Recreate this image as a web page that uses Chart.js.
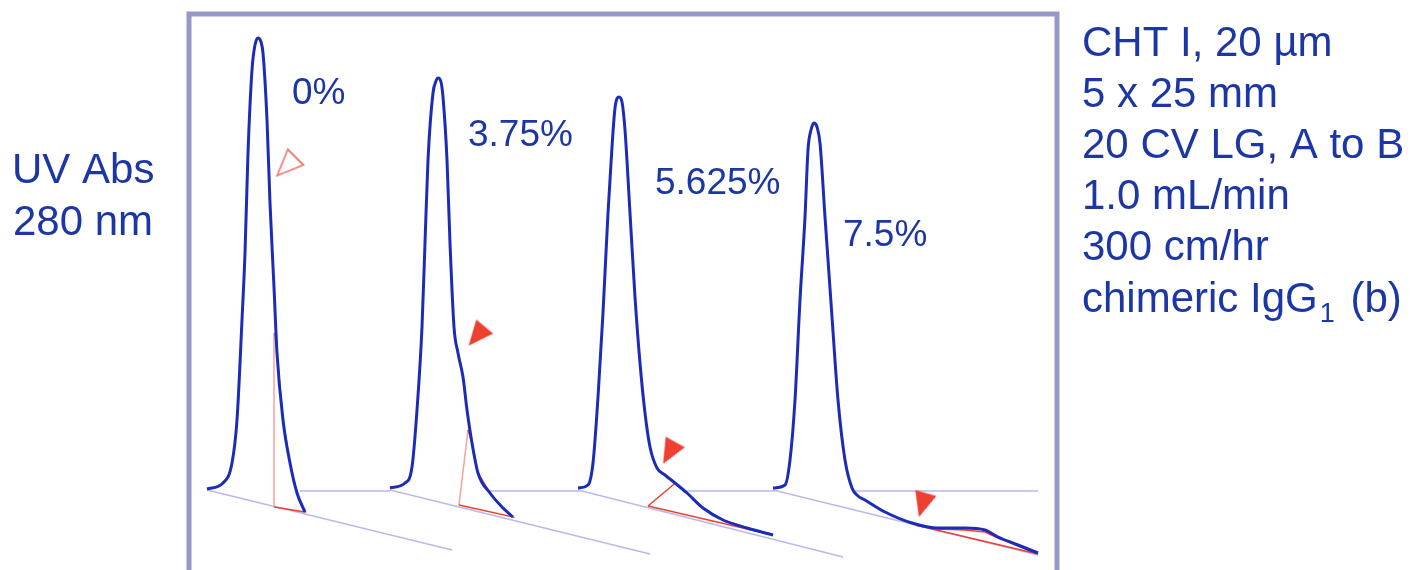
<!DOCTYPE html>
<html>
<head>
<meta charset="utf-8">
<title>CHT I - chimeric IgG1 (b)</title>
<script src="https://cdn.jsdelivr.net/npm/chart.js@4.4.1/dist/chart.umd.min.js"></script>
<style>
  html, body { margin: 0; padding: 0; background: #fff; overflow: hidden; }
  #chromChart { display: block; }
</style>
</head>
<body>
<canvas id="chromChart" width="1414" height="570"></canvas>
<script>
// plot units: x = run position across the stacked view, y = absorbance above the flat baseline
const peak1X = [18, 34, 43, 48, 53, 56, 59, 63, 66, 69, 72, 74, 78, 81, 85, 88, 94, 101, 108, 116];
const peak1Y = [2, 8, 28, 71, 171, 238, 338, 421, 446, 453, 449, 438, 371, 288, 204, 138, 71, 28, -2, -21];

const peak2X = [201, 216, 223, 228, 233, 236, 239, 244, 247, 249, 252, 254, 258, 261, 265, 269, 274, 278, 283, 289, 301, 313, 324];
const peak2Y = [3, 8, 24, 81, 164, 248, 331, 398, 410, 413, 409, 394, 331, 248, 164, 138, 114, 81, 48, 18, -2, -16, -26];

const peak3X = [389, 399, 404, 409, 414, 419, 423, 426, 430, 433, 436, 441, 446, 451, 456, 461, 468, 476, 486, 498, 514, 534, 558, 584];
const peak3Y = [3, 6, 28, 94, 178, 278, 344, 383, 394, 389, 361, 278, 194, 128, 78, 44, 23, 16, 8, -2, -17, -29, -37, -44];

const peak4X = [584, 596, 601, 606, 611, 616, 619, 622, 625, 628, 631, 636, 643, 649, 656, 663, 669, 676, 696, 723, 749, 776, 796, 809, 829, 849];
const peak4Y = [3, 6, 31, 91, 191, 274, 341, 361, 368, 364, 348, 274, 174, 91, 31, 3, -5, -9, -21, -32, -37, -37, -39, -46, -54, -62];

// slanted run axes (one per run) and the flat baseline pieces
const diagStartX = [18, 201, 389, 584];
const diagStartY = [1, 1, 1, 1];
const diagEndX = [263, 461, 654, 849];
const diagEndY = [-59, -63, -66, -64];
const baseStartX = [111, 301, 494, 664];
const baseEndX = [201, 391, 586, 849];

// red aggregate regions
const red1X = [85, 85, 116, 108, 101, 94, 88, 86];
const red1Y = [158, -16, -21, -2, 28, 71, 138, 158];
const red2X = [279, 270, 324, 313, 301, 289, 283, 279];
const red2Y = [61, -14, -26, -16, -2, 18, 48, 61];
const red3X = [459, 484, 486, 498, 514, 534, 558, 584, 459];
const red3Y = [-15, 6, 8, -2, -17, -29, -37, -44, -15];
const red4X = [726, 749, 776, 796, 809, 829, 849, 726];
const red4Y = [-34, -38, -39, -41, -47, -55, -63, -34];

// arrow heads (centre of each head)
const markX = [97.4, 287.7, 480.2, 733.4];
const markY = [324.6, 154.9, 38.1, -14];

// gradient labels
const pctLabels = ['0%', '3.75%', '5.625%', '7.5%'];
const pctX = [103, 279, 466, 654];
const pctY = [387, 345, 297, 245];

const yLabel = ['UV Abs', '280 nm'];
const conditions = ['CHT I, 20 µm', '5 x 25 mm', '20 CV LG, A to B', '1.0 mL/min', '300 cm/hr'];

const textColor = '#1c36a6';
const peakColor = '#1b2db8';
const redColor = '#ee4031';
const paleRed = '#f6a29a';
const gridColor = '#b9b9ec';

function pts(xs, ys) {
    return xs.map((x, i) => ({ x: x, y: ys[i] }));
}

// arrow head image, tip pointing down
function arrowHead(filled, len, wid) {
    const c = document.createElement('canvas');
    c.width = 32;
    c.height = 32;
    const g = c.getContext('2d');
    g.beginPath();
    g.moveTo(16 - wid / 2, 16 - len / 2);
    g.lineTo(16 + wid / 2, 16 - len / 2);
    g.lineTo(16, 16 + len / 2);
    g.closePath();
    if (filled) {
        g.fillStyle = redColor;
        g.fill();
    } else {
        g.strokeStyle = '#f17f76';
        g.lineWidth = 1.8;
        g.stroke();
    }
    return c;
}

const openHead = arrowHead(false, 26, 22);
const solidHead = arrowHead(true, 25, 22);

const datasets = [];

datasets.push({
    data: pts(markX, markY),
    showLine: false,
    pointStyle: [openHead, solidHead, solidHead, solidHead],
    pointRotation: [45, 40, 29, 16],
    pointRadius: 16,
    order: 1
});

[[peak1X, peak1Y], [peak2X, peak2Y], [peak3X, peak3Y], [peak4X, peak4Y]].forEach(p => {
    datasets.push({
        data: pts(p[0], p[1]),
        borderColor: peakColor,
        borderWidth: 3,
        pointRadius: 0,
        cubicInterpolationMode: 'monotone',
        fill: false,
        order: 2
    });
});

// first two regions have a pale cut line
[[red1X, red1Y, paleRed], [red2X, red2Y, paleRed], [red3X, red3Y, redColor], [red4X, red4Y, redColor]].forEach(r => {
    datasets.push({
        data: pts(r[0], r[1]),
        borderColor: redColor,
        borderWidth: 1.5,
        pointRadius: 0,
        tension: 0,
        fill: false,
        segment: {
            borderColor: ctx => ctx.p0DataIndex === 0 ? r[2] : undefined
        },
        order: 3
    });
});

diagStartX.forEach((x, i) => {
    datasets.push({
        data: [{ x: x, y: diagStartY[i] }, { x: diagEndX[i], y: diagEndY[i] }],
        borderColor: gridColor,
        borderWidth: 1.5,
        pointRadius: 0,
        order: 4
    });
});

baseStartX.forEach((x, i) => {
    datasets.push({
        data: [{ x: x, y: 0 }, { x: baseEndX[i], y: 0 }],
        borderColor: gridColor,
        borderWidth: 1.5,
        pointRadius: 0,
        order: 4
    });
});

const framePlugin = {
    id: 'frame',
    afterDatasetsDraw(chart) {
        const { ctx, chartArea: a } = chart;
        ctx.save();
        ctx.strokeStyle = '#9898c8';
        ctx.lineWidth = 5;
        ctx.beginPath();
        ctx.moveTo(a.left, chart.height + 10);
        ctx.lineTo(a.left, a.top);
        ctx.lineTo(a.right, a.top);
        ctx.lineTo(a.right, chart.height + 10);
        ctx.stroke();
        ctx.restore();
    }
};

const textPlugin = {
    id: 'texts',
    afterDraw(chart) {
        const ctx = chart.ctx;
        const xs = chart.scales.x;
        const ys = chart.scales.y;
        ctx.save();
        ctx.fillStyle = textColor;
        ctx.textBaseline = 'alphabetic';
        ctx.textAlign = 'left';

        ctx.font = '37px "Liberation Sans", Arial, sans-serif';
        pctLabels.forEach((t, i) => {
            ctx.fillText(t, xs.getPixelForValue(pctX[i]), ys.getPixelForValue(pctY[i]));
        });

        ctx.font = '42px "Liberation Sans", Arial, sans-serif';
        ctx.fillText(yLabel[0], 12, 183);
        ctx.fillText(yLabel[1], 13, 235);

        let y = 56;
        conditions.forEach(t => {
            ctx.fillText(t, 1082, y);
            y += 51.1;
        });
        // last line carries a subscript
        const main = 'chimeric IgG';
        ctx.fillText(main, 1082, y);
        let x = 1082 + ctx.measureText(main).width + 2;
        ctx.font = '27px "Liberation Sans", Arial, sans-serif';
        ctx.fillText('1', x, y + 10);
        x += ctx.measureText('1').width + 4;
        ctx.font = '42px "Liberation Sans", Arial, sans-serif';
        ctx.fillText(' (b)', x, y);
        ctx.restore();
    }
};

const chart = new Chart(document.getElementById('chromChart'), {
    type: 'line',
    data: { datasets: datasets },
    options: {
        responsive: false,
        animation: false,
        layout: { autoPadding: false, padding: { left: 189, top: 14, right: 357, bottom: 0 } },
        scales: {
            x: { type: 'linear', min: 0, max: 868, display: false },
            y: { type: 'linear', min: -79, max: 477, display: false }
        },
        plugins: {
            legend: { display: false },
            tooltip: { enabled: false }
        }
    },
    plugins: [framePlugin, textPlugin]
});
</script>
</body>
</html>
